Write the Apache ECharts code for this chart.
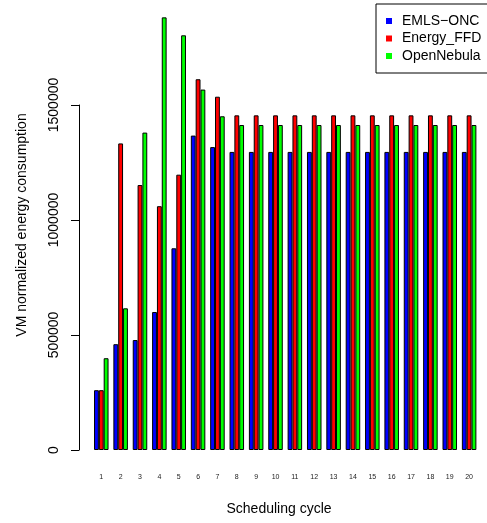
<!DOCTYPE html>
<html><head><meta charset="utf-8">
<script src="https://cdn.jsdelivr.net/npm/echarts@6/dist/echarts.min.js"></script>
<style>html,body{margin:0;padding:0;background:#fff}#c{width:487px;height:523px}</style>
</head><body><div id="c"></div>
<script>
var categories = ['1','2','3','4','5','6','7','8','9','10','11','12','13','14','15','16','17','18','19','20'];
var emlsOnc   = [260000, 460000, 478000, 600000, 877000, 1367000, 1317000, 1296000, 1296000, 1296000, 1296000, 1296000, 1296000, 1296000, 1296000, 1296000, 1296000, 1296000, 1296000, 1296000];
var energyFfd = [260000, 1333000, 1152000, 1060000, 1197000, 1612000, 1536000, 1455000, 1455000, 1455000, 1455000, 1455000, 1455000, 1455000, 1455000, 1455000, 1455000, 1455000, 1455000, 1455000];
var openNebula= [399000, 616000, 1380000, 1881000, 1803000, 1567000, 1451000, 1413000, 1413000, 1413000, 1413000, 1413000, 1413000, 1413000, 1413000, 1413000, 1413000, 1413000, 1413000, 1413000];
var seriesNames = ['EMLS\u2212ONC', 'Energy_FFD', 'OpenNebula'];
var yTicks = [0, 500000, 1000000, 1500000];

var font = '"Liberation Sans", Arial, Helvetica, sans-serif';
var chart = echarts.init(document.getElementById('c'), null, {renderer: 'canvas'});
function bar(name, data, color) {
  return {
    name: name, type: 'bar', data: data, xAxisIndex: 0, yAxisIndex: 0,
    barGap: '0%', barCategoryGap: '25%',
    itemStyle: {color: color, borderColor: '#000', borderWidth: 1},
    emphasis: {disabled: true}, animation: false
  };
}
chart.setOption({
  animation: false,
  textStyle: {fontFamily: font},
  grid: [
    {left: 91.6, right: 8.2, top: 0, bottom: 73, containLabel: false},
    {left: 79, right: 8, top: 105, bottom: 73, containLabel: false}
  ],
  legend: {
    orient: 'vertical', left: 376, top: 4,
    data: seriesNames,
    icon: 'rect', itemWidth: 6, itemHeight: 6, itemGap: 3.5,
    itemStyle: {borderWidth: 0},
    padding: [10, 20, 10, 10],
    borderColor: '#000', borderWidth: 1, borderRadius: 0,
    textStyle: {fontSize: 14, color: '#000', fontFamily: font, padding: [0, 0, 0, 5]}
  },
  xAxis: [
    {type: 'category', gridIndex: 0, data: categories,
     axisLine: {show: false}, axisTick: {show: false},
     axisLabel: {fontSize: 7, color: '#222', margin: 24, interval: 0, fontFamily: font}},
    {type: 'value', gridIndex: 1, min: 0, max: 1,
     axisLine: {show: false}, axisTick: {show: false}, axisLabel: {show: false}, splitLine: {show: false},
     name: 'Scheduling cycle', nameLocation: 'middle', nameGap: 52,
     nameTextStyle: {fontSize: 14, color: '#000', fontFamily: font}}
  ],
  yAxis: [
    {type: 'value', gridIndex: 0, min: 0, max: 1956500,
     axisLine: {show: false}, axisTick: {show: false}, axisLabel: {show: false}, splitLine: {show: false},
     name: 'VM normalized energy consumption', nameLocation: 'middle', nameGap: 62, nameRotate: 90,
     nameTextStyle: {fontSize: 14, color: '#000', fontFamily: font}},
    {type: 'value', gridIndex: 1, min: yTicks[0], max: yTicks[yTicks.length - 1], interval: yTicks[1] - yTicks[0],
     axisLine: {show: true, lineStyle: {color: '#000', width: 1}},
     axisTick: {show: true, length: 8, lineStyle: {color: '#000', width: 1}},
     axisLabel: {rotate: 90, fontSize: 14, color: '#000', margin: 18, fontFamily: font,
                 formatter: function (v) { return String(v); }},
     splitLine: {show: false}}
  ],
  series: [
    bar(seriesNames[0], emlsOnc, '#0000FF'),
    bar(seriesNames[1], energyFfd, '#FF0000'),
    bar(seriesNames[2], openNebula, '#00FF00')
  ]
});
</script></body></html>
